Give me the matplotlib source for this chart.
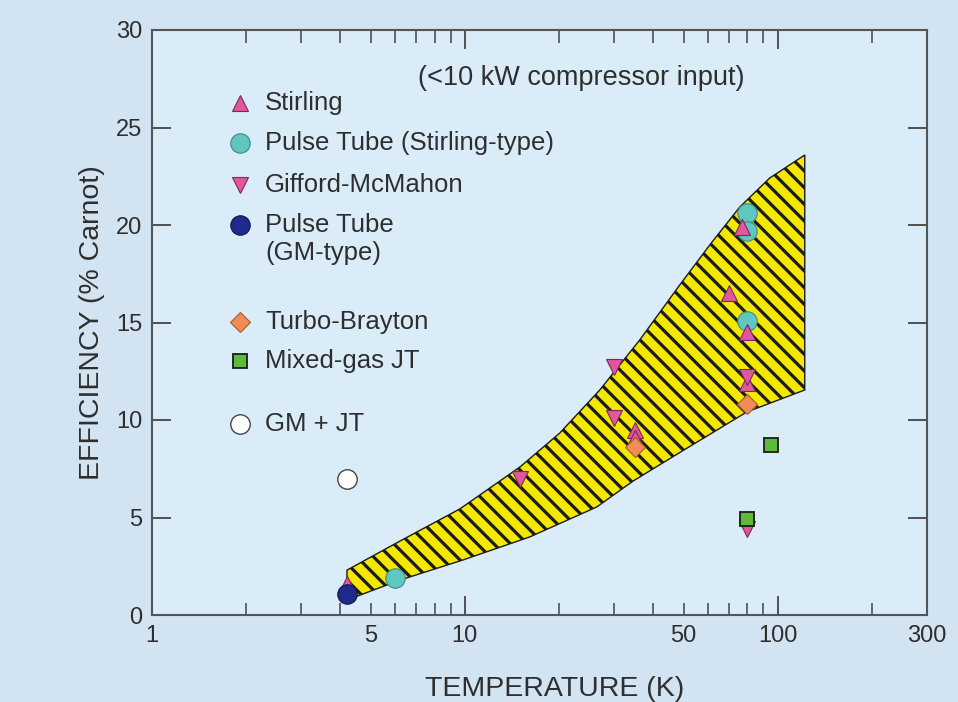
import matplotlib
matplotlib.use("Agg")
import matplotlib.pyplot as plt
from matplotlib import font_manager
from matplotlib.ticker import FixedLocator, FixedFormatter, FuncFormatter

# ---------------- data ----------------
stirling_T = [4.2, 35, 35, 70, 77, 80, 80]
stirling_eff = [1.6, 9.5, 9.1, 16.5, 19.9, 14.5, 11.9]

pt_stirling_T = [6, 80, 80, 80]
pt_stirling_eff = [1.9, 20.6, 19.7, 15.1]

gm_T = [15, 30, 30, 80, 80]
gm_eff = [7.0, 12.7, 10.1, 12.2, 4.4]

pt_gm_T = [4.2]
pt_gm_eff = [1.1]

brayton_T = [35, 80]
brayton_eff = [8.6, 10.8]

mixed_T = [80, 95]
mixed_eff = [4.9, 8.7]

gmjt_T = [4.2]
gmjt_eff = [7.0]

band_upper_T = [4.2, 6.2, 9.64, 15.0, 20.1, 27.0, 36.2, 48.6, 60.6, 75.6, 94.3, 122]
band_upper = [2.3, 3.79, 5.44, 7.59, 9.33, 11.54, 14.1, 16.92, 18.97, 20.92, 22.41, 23.59]
band_lower_T = [4.2, 6.2, 9.85, 16.1, 26.4, 34.5, 48.6, 79.6, 122]
band_lower = [0.77, 1.79, 2.82, 4.0, 5.54, 6.87, 8.33, 10.41, 11.54]

x_major = [1, 10, 100]
x_minor = [2, 3, 4, 5, 6, 7, 8, 9, 20, 30, 40, 50, 60, 70, 80, 90, 200, 300]
x_labeled = {1: "1", 5: "5", 10: "10", 50: "50", 100: "100", 300: "300"}
y_ticks = [0, 5, 10, 15, 20, 25, 30]

legend_labels = ["Stirling", "Pulse Tube (Stirling-type)", "Gifford-McMahon",
                 "Pulse Tube\n(GM-type)", "Turbo-Brayton", "Mixed-gas JT", "GM + JT"]

# ---------------- fonts ----------------
names = {f.name for f in font_manager.fontManager.ttflist}
base_font = "Liberation Sans" if "Liberation Sans" in names else "DejaVu Sans"
narrow_font = "Liberation Sans Narrow" if "Liberation Sans Narrow" in names else base_font
plt.rcParams["font.family"] = [base_font, "DejaVu Sans"]
plt.rcParams["hatch.linewidth"] = 2.3

# ---------------- styles ----------------
TEXT = "#2e2e2e"
styles = {
    "stirling": dict(marker="^", ms=12, mfc="#E0579F", mec="#7a2a55", mew=0.8),
    "pts": dict(marker="o", ms=14, mfc="#5FC6C0", mec="#3f8b87", mew=0.8),
    "gm": dict(marker="v", ms=12, mfc="#E0579F", mec="#7a2a55", mew=0.8),
    "ptgm": dict(marker="o", ms=14, mfc="#1E2A8C", mec="#101650", mew=0.8),
    "brayton": dict(marker="D", ms=10.5, mfc="#F08C55", mec="#a65a2e", mew=0.8),
    "mixed": dict(marker="s", ms=10, mfc="#5DBB3C", mec="#1a1a1a", mew=1.3),
    "gmjt": dict(marker="o", ms=14, mfc="#FFFFFF", mec="#444444", mew=1.0),
}

fig = plt.figure(figsize=(9.58, 7.02), dpi=100, facecolor="#D2E4F1")
ax = fig.add_axes([152 / 958, 1 - 615 / 702, 775 / 958, 585 / 702])
ax.set_facecolor("#D9ECF8")
ax.set_xscale("log")
ax.set_xlim(1, 300)
ax.set_ylim(0, 30)

# band
poly_T = list(band_upper_T) + list(band_lower_T[::-1])
poly_y = list(band_upper) + list(band_lower[::-1])
ax.fill(poly_T, poly_y, facecolor="#F4E800", edgecolor="#1a1a1a",
        hatch="\\\\", linewidth=1.0, zorder=2)

# points
def pts(T, e, key, z=3):
    ax.plot(T, e, linestyle="none", zorder=z, **styles[key])

pts(pt_stirling_T, pt_stirling_eff, "pts", 3)
pts(stirling_T, stirling_eff, "stirling", 4)
pts(gm_T, gm_eff, "gm", 4)
pts(brayton_T, brayton_eff, "brayton", 4)
pts(mixed_T, mixed_eff, "mixed", 5)
pts(pt_gm_T, pt_gm_eff, "ptgm", 5)
pts(gmjt_T, gmjt_eff, "gmjt", 4)

# manual legend
leg_keys = ["stirling", "pts", "gm", "ptgm", "brayton", "mixed", "gmjt"]
leg_y = [0.875, 0.807, 0.735, 0.667, 0.501, 0.434, 0.326]
line_step = 28 / 585
for key, lab, yy in zip(leg_keys, legend_labels, leg_y):
    ax.plot([0.1135], [yy], transform=ax.transAxes, linestyle="none",
            clip_on=False, zorder=6, **styles[key])
    for i, part in enumerate(lab.split("\n")):
        ax.text(0.146, yy - i * line_step, part, transform=ax.transAxes,
                fontsize=18.5, color=TEXT, va="center", zorder=6)

ax.text(0.343, 0.918, "(<10 kW compressor input)", transform=ax.transAxes,
        fontsize=19.5, color=TEXT, va="center")

# axes styling
ax.xaxis.set_major_locator(FixedLocator(x_major))
ax.xaxis.set_minor_locator(FixedLocator(x_minor))
fmt = FuncFormatter(lambda v, p: x_labeled.get(int(round(v)), "")
                    if abs(v - round(v)) < 1e-6 else "")
ax.xaxis.set_major_formatter(fmt)
ax.xaxis.set_minor_formatter(fmt)
ax.set_yticks(y_ticks)
ax.tick_params(which="major", direction="in", length=14, width=1.3,
               top=True, right=True, colors="#444444", labelcolor=TEXT,
               labelsize=17, pad=7)
ax.tick_params(which="minor", direction="in", length=9, width=1.1,
               top=True, right=True, colors="#444444", labelcolor=TEXT,
               labelsize=17, pad=7)
fig.canvas.draw()
for lbl in (ax.get_xticklabels(which="both") + ax.get_yticklabels()):
    lbl.set_fontfamily([narrow_font, "DejaVu Sans"])
for sp in ax.spines.values():
    sp.set_color("#555555")
    sp.set_linewidth(1.5)

ax.set_xlabel("TEMPERATURE (K)", fontsize=20.5, color=TEXT)
ax.set_ylabel("EFFICIENCY (% Carnot)", fontsize=20.5, color=TEXT)
ax.xaxis.set_label_coords(0.52, -0.104)
ax.yaxis.set_label_coords(-0.06, 0.5)

fig.savefig("out.png", dpi=100, facecolor=fig.get_facecolor())
